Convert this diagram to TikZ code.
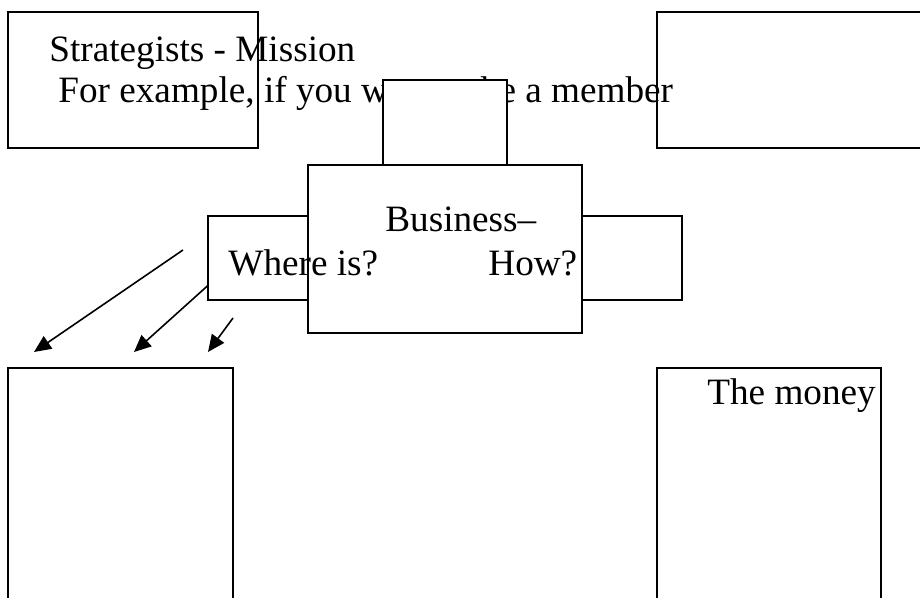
\documentclass[tikz,border=0pt]{standalone}
\usepackage{fontspec}
\setmainfont{Liberation Serif}
\usetikzlibrary{arrows.meta,fit}
\tikzset{
  box/.style={draw=black, line width=0.65pt, fill=white, inner sep=0pt},
  openbox/.style={draw=black, line width=0.65pt, inner sep=0pt},
  lbl/.style={inner sep=0pt, anchor=base west, font=\fontsize{18.6pt}{20pt}\selectfont},
  arr/.style={line width=0.8pt, -{Triangle[length=8.5pt,width=7.5pt]}}
}
\begin{document}
\begin{tikzpicture}[x=0.5pt,y=-0.5pt]
\clip (0,0) rectangle (920,598);
\fill[white] (0,0) rectangle (920,598);
% top-left box and its overflowing text
\node[openbox, fit={(8,12)(258,148)}] (tl) {};
\node[lbl] (t1) at (49,62) {Strategists - Mission};
\node[lbl] (t2) at (58,103) {For example, if you want to be a member};
% top-right box (runs past the right edge)
\node[openbox, fit={(657,12)(940,148)}] (tr) {};
% small top box covering text
\node[box, fit={(383,80)(507,165)}] (top) {};
% side boxes
\node[box, fit={(208,216)(308,300)}] (left) {};
\node[box, fit={(582,216)(682,300)}] (right) {};
% central box
\node[box, fit={(308,165)(582,333)}] (center) {};
\node[lbl] (bz) at (385,232) {Business–};
\node[lbl] (wh) at (228,276) {Where is?};
\node[lbl] (how) at (488,276) {How?};
% bottom boxes
\node[openbox, fit={(8,368)(233,620)}] (bl) {};
\node[openbox, fit={(657,368)(881,620)}] (br) {};
\node[lbl] (money) at (707,404) {The money};
% arrows
\coordinate (a1s) at (183,250);
\coordinate (a1e) at (34,352);
\coordinate (a2s) at (left.south west |- 0,286);
\coordinate (a2e) at (134,352);
\coordinate (a3s) at (233,318);
\coordinate (a3e) at (208,352);
\draw[arr] (a1s) -- (a1e);
\draw[arr] (a2s) -- (a2e);
\draw[arr] (a3s) -- (a3e);
\end{tikzpicture}
\end{document}
